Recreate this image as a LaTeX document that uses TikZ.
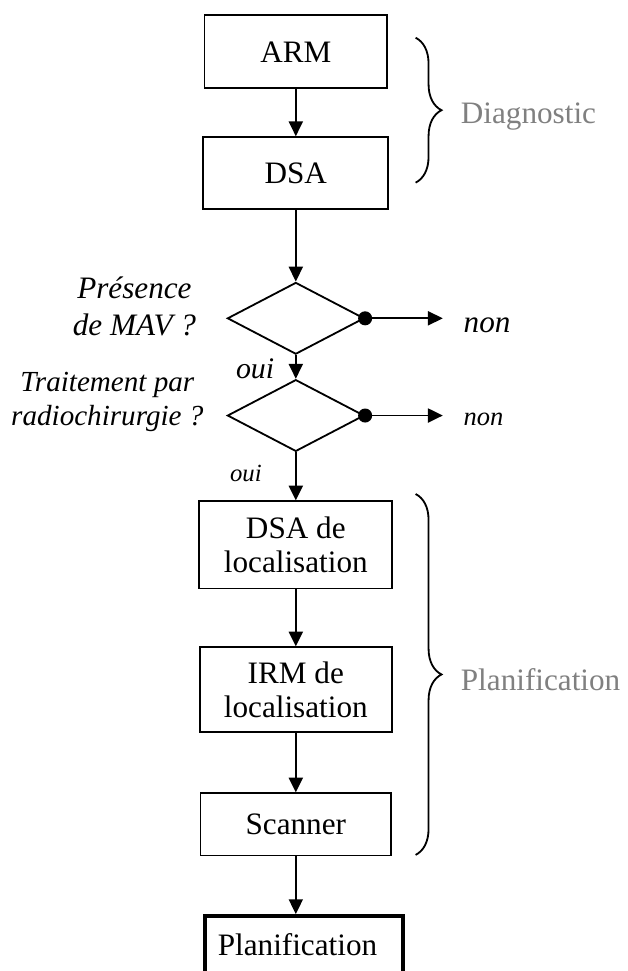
\documentclass[tikz,border=0pt]{standalone}
\usepackage{fontspec}
\setmainfont{Liberation Serif}
\usetikzlibrary{arrows.meta,positioning,shapes.geometric,decorations.pathreplacing}
\definecolor{phasegray}{RGB}{128,128,128}

\begin{document}
\begin{tikzpicture}[
  font=\fontsize{12}{13.2}\selectfont,
  line width=0.7pt,
  box/.style={draw,align=center,minimum width=2.5cm,inner sep=2pt},
  decision/.style={draw,diamond,minimum width=1.85cm,minimum height=0.97cm,inner sep=0pt},
  arr/.style={-{Triangle[length=0.2cm,width=0.19cm]}},
  brc/.style={decorate,decoration={brace,amplitude=0.35cm}},
  question/.style={align=center,inner sep=0pt},
  answer/.style={inner sep=0pt},
  phase/.style={text=phasegray,inner sep=0pt},
  node distance=0.64cm
]
\useasboundingbox (0,0) rectangle (8.48,-13.13);
\node[box,minimum width=2.47cm,minimum height=0.99cm](arm) at (4.0,-0.70){ARM};
\node[box,minimum height=0.97cm,below=0.635cm of arm](dsa){DSA};
\node[decision,below=0.97cm of dsa](d1){};
\node[decision,below=0.32cm of d1](d2){};
\node[box,minimum width=2.61cm,minimum height=1.18cm,below=0.65cm of d2](dsaloc){DSA de\\localisation};
\node[box,minimum width=2.6cm,minimum height=1.15cm,below=0.77cm of dsaloc](irmloc){IRM de\\localisation};
\node[box,minimum width=2.58cm,minimum height=0.84cm,below=0.8cm of irmloc](scan){Scanner};
\node[box,line width=1.5pt,inner xsep=0.17cm,text width=2.34cm,align=left,
      minimum height=1.1cm,text depth=0.33cm,below=0.78cm of scan,xshift=0.115cm](plan){Planification};

\node[question,font=\itshape\fontsize{12}{14.2}\selectfont,left=0.4cm of d1.west,yshift=0.16cm](q1){Présence\\de MAV ?};
\node[question,font=\itshape\fontsize{11.2}{13.1}\selectfont,left=0.3cm of d2.west,yshift=0.18cm](q2){Traitement par\\radiochirurgie ?};

\fill (d1.east) circle (0.095cm);
\fill (d2.east) circle (0.095cm);
\coordinate[right=1.05cm of d1.east](tip1);
\coordinate[right=1.05cm of d2.east](tip2);
\node[answer,font=\itshape\fontsize{12}{13}\selectfont,right=0.27cm of tip1,yshift=-0.09cm](non1){non};
\node[answer,font=\itshape\fontsize{10.2}{12}\selectfont,right=0.27cm of tip2,yshift=-0.05cm](non2){non};
\node[answer,font=\itshape\fontsize{11.5}{13}\selectfont,anchor=east](oui1) at ([xshift=-0.28cm,yshift=-0.18cm]d1.south){oui};
\node[answer,font=\itshape\fontsize{9.5}{11}\selectfont,anchor=east](oui2) at ([xshift=-0.45cm,yshift=-0.29cm]d2.south){oui};

\draw[arr](arm)--(dsa);\draw[arr](dsa)--(d1);\draw[arr](d1)--(d2);
\draw[arr](d2)--(dsaloc);\draw[arr](dsaloc)--(irmloc);\draw[arr](irmloc)--(scan);
\draw[arr](scan.south)--(scan.south|-plan.north);
\draw[arr](d1.east)--(tip1);\draw[arr](d2.east)--(tip2);

\coordinate(diagtop) at (5.62,-0.51);
\coordinate(diagbot) at (5.62,-2.47);
\coordinate(plantop) at (5.62,-6.68);
\coordinate(planbot) at (5.62,-11.56);
\draw[brc](diagtop)--(diagbot) node[midway,phase,right=0.6cm,yshift=-0.09cm](diag){Diagnostic};
\draw[brc](plantop)--(planbot) node[midway,phase,right=0.6cm,yshift=-0.07cm](planif){Planification};
\end{tikzpicture}
\end{document}
